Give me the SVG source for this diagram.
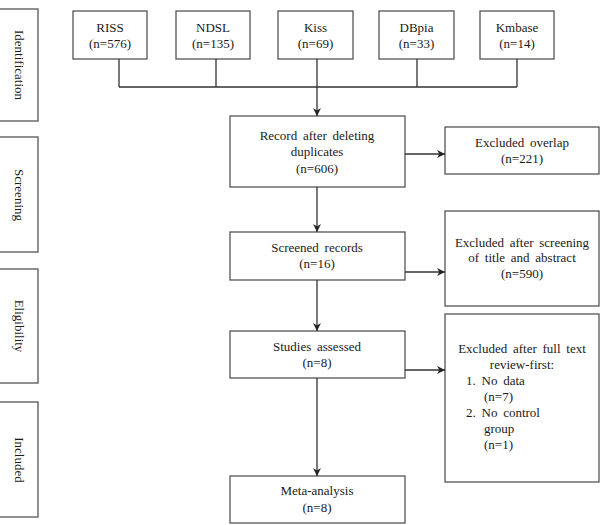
<svg xmlns="http://www.w3.org/2000/svg" width="605" height="525" viewBox="0 0 605 525">
<style>
.box{fill:#fff;stroke:#555;stroke-width:1.3}
.t{font-family:"Liberation Serif","Times New Roman",serif;font-size:13px;fill:#1a1a1a;text-anchor:middle}
.l{text-anchor:start}
.ws{word-spacing:2.5px}
.c{fill:none;stroke:#333;stroke-width:1.3}
</style>
<defs>
<marker id="ah" viewBox="0 0 10 10" refX="10" refY="5" markerWidth="8" markerHeight="8" markerUnits="userSpaceOnUse" orient="auto">
<path d="M0,0 L10,5 L0,10 L3,5 z" fill="#222"/>
</marker>
</defs>
<g id="phase-identification"><rect class="box" x="-1" y="9" width="39" height="112"/><text class="t" transform="translate(15,65) rotate(90)">Identification</text></g>
<g id="phase-screening"><rect class="box" x="-1" y="137" width="39" height="115"/><text class="t" transform="translate(15,195) rotate(90)">Screening</text></g>
<g id="phase-eligibility"><rect class="box" x="-1" y="269" width="39" height="114"/><text class="t" transform="translate(15,326) rotate(90)">Eligibility</text></g>
<g id="phase-included"><rect class="box" x="-1" y="402" width="39" height="115"/><text class="t" transform="translate(15,460) rotate(90)">Included</text></g>

<g id="riss"><rect class="box" x="73" y="11" width="74" height="48"/><text class="t" x="110" y="32">RISS</text><text class="t" x="110" y="48">(n=576)</text></g>
<g id="ndsl"><rect class="box" x="176" y="11" width="74" height="48"/><text class="t" x="213" y="32">NDSL</text><text class="t" x="213" y="48">(n=135)</text></g>
<g id="kiss"><rect class="box" x="278" y="11" width="75" height="48"/><text class="t" x="315.5" y="32">Kiss</text><text class="t" x="315.5" y="48">(n=69)</text></g>
<g id="dbpia"><rect class="box" x="379" y="11" width="75" height="48"/><text class="t" x="416.5" y="32">DBpia</text><text class="t" x="416.5" y="48">(n=33)</text></g>
<g id="kmbase"><rect class="box" x="480" y="11" width="74" height="48"/><text class="t" x="517" y="32">Kmbase</text><text class="t" x="517" y="48">(n=14)</text></g>

<g id="record"><rect class="box" x="230" y="116" width="175" height="71"/><text class="t ws" x="317" y="140">Record after deleting</text><text class="t" x="317" y="156">duplicates</text><text class="t" x="317" y="173">(n=606)</text></g>
<g id="excl-overlap"><rect class="box" x="445" y="127" width="154" height="47"/><text class="t ws" x="522" y="147">Excluded overlap</text><text class="t" x="522" y="163">(n=221)</text></g>
<g id="screened"><rect class="box" x="230" y="232" width="175" height="48"/><text class="t ws" x="317" y="252">Screened records</text><text class="t" x="317" y="268">(n=16)</text></g>
<g id="excl-screening"><rect class="box" x="445" y="211" width="154" height="95"/><text class="t ws" x="522" y="247">Excluded after screening</text><text class="t ws" x="522" y="262">of title and abstract</text><text class="t" x="522" y="278">(n=590)</text></g>
<g id="studies"><rect class="box" x="230" y="331" width="175" height="47"/><text class="t ws" x="317" y="351">Studies assessed</text><text class="t" x="317" y="367">(n=8)</text></g>
<g id="excl-fulltext"><rect class="box" x="445" y="314" width="154" height="168"/><text class="t ws" x="522" y="353">Excluded after full text</text><text class="t" x="522" y="369">review-first:</text><text class="t l ws" x="466" y="385">1. No data</text><text class="t l" x="484" y="401">(n=7)</text><text class="t l ws" x="466" y="417">2. No control</text><text class="t l" x="484" y="433">group</text><text class="t l" x="484" y="449">(n=1)</text></g>
<g id="meta"><rect class="box" x="230" y="476" width="175" height="47"/><text class="t" x="317" y="495">Meta-analysis</text><text class="t" x="317" y="512">(n=8)</text></g>

<g id="connectors">
<path class="c" d="M119,59 V87 M216,59 V87 M417,59 V87 M517,59 V87 M119,87 H517"/>
<path class="c" d="M317,59 V116" marker-end="url(#ah)"/>
<path class="c" d="M405,154 H445" marker-end="url(#ah)"/>
<path class="c" d="M317,187 V232" marker-end="url(#ah)"/>
<path class="c" d="M405,272 H445" marker-end="url(#ah)"/>
<path class="c" d="M317,280 V331" marker-end="url(#ah)"/>
<path class="c" d="M405,370 H445" marker-end="url(#ah)"/>
<path class="c" d="M317,378 V476" marker-end="url(#ah)"/>
</g>
</svg>
